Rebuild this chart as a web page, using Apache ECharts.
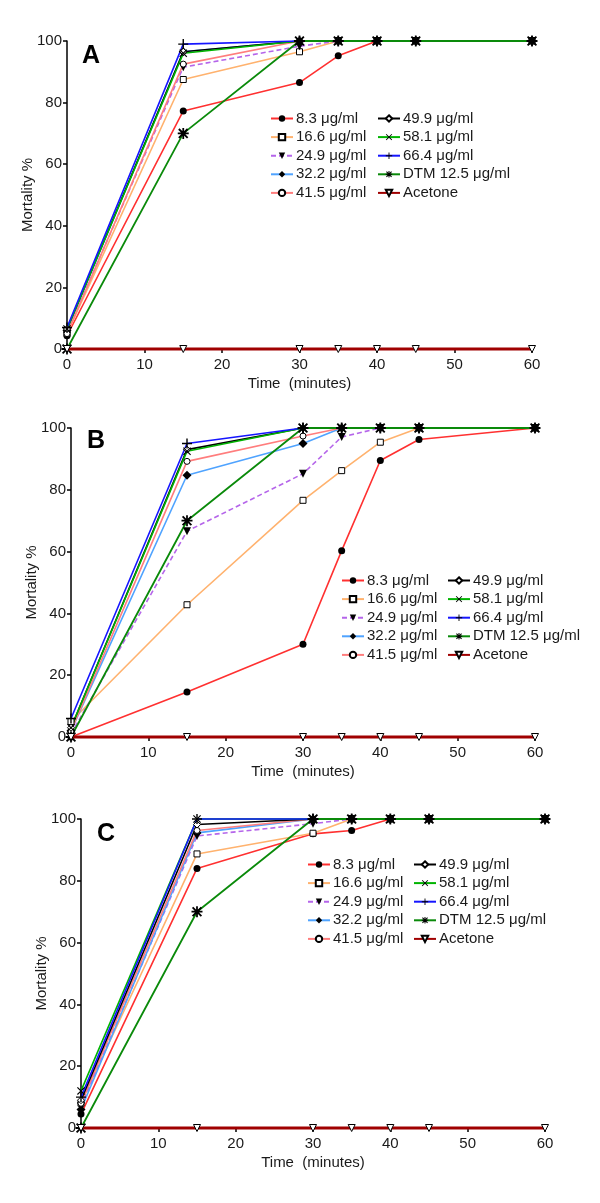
<!DOCTYPE html>
<html>
<head>
<meta charset="utf-8">
<script src="https://cdn.jsdelivr.net/npm/echarts@6/dist/echarts.min.js"></script>
<style>html,body{margin:0;padding:0;background:#fff}#c{width:600px;height:1203px}</style>
</head>
<body>
<div id="c"></div>
<script>
// ---- data ----
const times = [0, 15, 30, 35, 40, 45, 60];
const seriesNames = ['8.3 μg/ml', '16.6 μg/ml', '24.9 μg/ml', '32.2 μg/ml', '41.5 μg/ml',
  '49.9 μg/ml', '58.1 μg/ml', '66.4 μg/ml', 'DTM 12.5 μg/ml', 'Acetone'];
const panelLetters = ['A', 'B', 'C'];
const yTicks = [0, 20, 40, 60, 80, 100];
const xTicks = [0, 10, 20, 30, 40, 50, 60];

// Panel A mortality %, one row per series (order as seriesNames)
const panelA = [
  [4.3, 77.3, 86.5, 95.2, 100, 100, 100],
  [5, 87.5, 96.5, 100, 100, 100, 100],
  [5.5, 91.5, 98.3, 100, 100, 100, 100],
  [6, 96.5, 100, 100, 100, 100, 100],
  [5, 92.5, 100, 100, 100, 100, 100],
  [6.5, 96.5, 100, 100, 100, 100, 100],
  [6.5, 96, 100, 100, 100, 100, 100],
  [7, 99, 100, 100, 100, 100, 100],
  [0, 70, 100, 100, 100, 100, 100],
  [0, 0, 0, 0, 0, 0, 0]
];
const panelB = [
  [0, 14.6, 30, 60.3, 89.5, 96.3, 100],
  [5, 42.8, 76.6, 86.2, 95.4, 100, 100],
  [1, 66.6, 85.2, 97.1, 100, 100, 100],
  [2, 84.7, 95, 100, 100, 100, 100],
  [2, 89.2, 97.4, 100, 100, 100, 100],
  [3, 93, 100, 100, 100, 100, 100],
  [3, 92.5, 100, 100, 100, 100, 100],
  [6, 95, 100, 100, 100, 100, 100],
  [0, 70, 100, 100, 100, 100, 100],
  [0, 0, 0, 0, 0, 0, 0]
];
const panelC = [
  [4.5, 84, 95.2, 96.3, 100, 100, 100],
  [8, 88.7, 95.4, 100, 100, 100, 100],
  [7, 94.5, 98.5, 100, 100, 100, 100],
  [6, 95.5, 100, 100, 100, 100, 100],
  [8, 96.3, 100, 100, 100, 100, 100],
  [9, 98.2, 100, 100, 100, 100, 100],
  [12, 100, 100, 100, 100, 100, 100],
  [10, 100, 100, 100, 100, 100, 100],
  [0, 70, 100, 100, 100, 100, 100],
  [0, 0, 0, 0, 0, 0, 0]
];
const panels = [panelA, panelB, panelC];

// ---- styles ----
const FONT = "'Liberation Sans', Arial, sans-serif";
const PLUS = 'path://M4.3,0H5.7V4.3H10V5.7H5.7V10H4.3V5.7H0V4.3H4.3Z';
const XMARK = 'path://M0,1L1,0L5,4L9,0L10,1L6,5L10,9L9,10L5,6L1,10L0,9L4,5Z';
const STAR = 'path://M4.2,0H5.8V4.2H10V5.8H5.8V10H4.2V5.8H0V4.2H4.2Z M0.4,1.6L1.6,0.4L5,3.8L8.4,0.4L9.6,1.6L6.2,5L9.6,8.4L8.4,9.6L5,6.2L1.6,9.6L0.4,8.4L3.8,5Z';
const filled = {color: '#000'};
const open = {color: '#fff', borderColor: '#000', borderWidth: 1};
const styles = [
  {color: '#ff3030', width: 1.6, symbol: 'circle', size: 7, item: filled},
  {color: '#ffb26e', width: 1.6, symbol: 'rect', size: 6, item: open},
  {color: '#b565ea', width: 1.6, symbol: 'triangle', rotate: 180, size: 8, item: filled, dash: [5, 3]},
  {color: '#4fa3ff', width: 1.6, symbol: 'diamond', size: 9, item: filled},
  {color: '#ff7d7d', width: 1.6, symbol: 'circle', size: 6, item: open},
  {color: '#000000', width: 1.6, symbol: 'diamond', size: 7, item: open},
  {color: '#00b400', width: 1.6, symbol: XMARK, size: 8, item: filled},
  {color: '#1515ff', width: 1.6, symbol: PLUS, size: 10, item: filled},
  {color: '#0a8a0a', width: 1.8, symbol: STAR, size: 11, item: filled},
  {color: '#a00000', width: 3.2, symbol: 'triangle', rotate: 180, size: 7, item: open}
];

const grids = [
  {left: 67, top: 41, width: 465, height: 308},
  {left: 71, top: 428, width: 464, height: 309},
  {left: 81, top: 819, width: 464, height: 309}
];
const legendPos = [
  [{left: 270, top: 110}, {left: 377, top: 110}],
  [{left: 341, top: 572}, {left: 447, top: 572}],
  [{left: 307, top: 856}, {left: 413, top: 856}]
];

const axisLine = {show: true, lineStyle: {color: '#000', width: 1.5}};
const axisTick = {show: true, inside: false, length: 4, lineStyle: {color: '#000', width: 1.5}};
const labelStyle = {color: '#1a1a1a', fontSize: 15, fontFamily: FONT};

const xAxes = [], yAxes = [], series = [], legends = [], graphics = [];
grids.forEach((g, p) => {
  xAxes.push({
    type: 'value', gridIndex: p, min: xTicks[0], max: xTicks[xTicks.length - 1], interval: 10,
    axisLine, axisTick, splitLine: {show: false},
    axisLabel: Object.assign({margin: 8}, labelStyle),
    name: 'Time  (minutes)', nameLocation: 'middle', nameGap: 27, nameMoveOverlap: false,
    nameTextStyle: {color: '#1a1a1a', fontSize: 15, fontFamily: FONT}
  });
  yAxes.push({
    type: 'value', gridIndex: p, min: yTicks[0], max: yTicks[yTicks.length - 1], interval: 20,
    axisLine, axisTick, splitLine: {show: false},
    axisLabel: Object.assign({margin: 5}, labelStyle),
    name: 'Mortality %', nameLocation: 'middle', nameGap: 32, nameRotate: 90, nameMoveOverlap: false,
    nameTextStyle: {color: '#1a1a1a', fontSize: 15, fontFamily: FONT}
  });
  panels[p].forEach((vals, s) => {
    const st = styles[s];
    series.push({
      type: 'line', name: seriesNames[s], xAxisIndex: p, yAxisIndex: p,
      data: times.map((t, i) => [t, vals[i]]),
      symbol: st.symbol, symbolSize: st.size, symbolRotate: st.rotate || 0,
      showAllSymbol: true, clip: false, animation: false,
      lineStyle: {color: st.color, width: st.width, type: st.dash || 'solid'},
      itemStyle: st.item, z: s === 9 ? 5 : 3
    });
  });
  [0, 1].forEach(c => {
    legends.push(Object.assign({
      orient: 'vertical', itemWidth: 22, itemHeight: 8, itemGap: 1.6,
      data: seriesNames.slice(c * 5, c * 5 + 5),
      textStyle: {color: '#1a1a1a', fontSize: 15, fontFamily: FONT, lineHeight: 17, padding: [0, 0, 0, -2]},
      selectedMode: false, padding: 0
    }, legendPos[p][c]));
  });
  graphics.push({
    type: 'text', left: g.left + [15, 16, 16][p], top: g.top + [3, 1, 3][p],
    style: {text: panelLetters[p], font: "bold 25px " + FONT, fill: '#000'}
  });
});

const chart = echarts.init(document.getElementById('c'), null, {renderer: 'canvas'});
chart.setOption({
  animation: false,
  backgroundColor: '#fff',
  grid: grids,
  xAxis: xAxes,
  yAxis: yAxes,
  legend: legends,
  series: series,
  graphic: graphics
});
</script>
</body>
</html>
